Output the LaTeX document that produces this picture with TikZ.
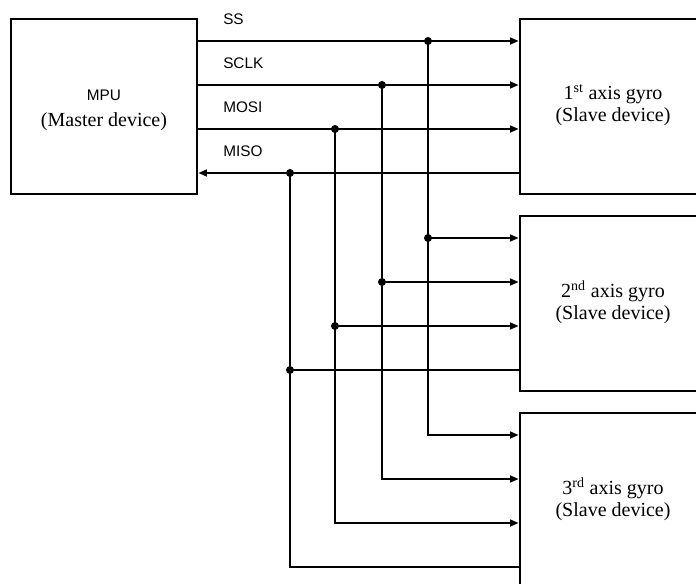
\documentclass[tikz,border=0pt]{standalone}
\usepackage{fontspec}
\setmainfont{Liberation Serif}
\setsansfont{Liberation Sans}
\usetikzlibrary{arrows.meta}
\begin{document}
\begin{tikzpicture}[x=0.75pt,y=-0.75pt, line width=1.9pt, line join=miter, >={Triangle[length=6.5pt,width=5pt]}, font=\fontsize{15}{16.5}\selectfont]
	\tikzset{box/.style={draw,minimum width=139.5pt,minimum height=131pt,inner sep=0pt},
		txt/.style={align=center,inner sep=0pt},
		sig/.style={anchor=west,inner sep=0pt,font=\sffamily\fontsize{11.5}{13}\selectfont}}
	\useasboundingbox (0,0) rectangle (696,584);
	\clip (0,0) rectangle (696,584);
	% boxes
	\node[box] (mpu) at (104,106.5) {};
	\node[box] (g1) at (613,106.5) {};
	\node[box] (g2) at (613,303.5) {};
	\node[box] (g3) at (613,500.5) {};
	\node[txt] (tmpu) at ([yshift=-2.6pt]mpu.center) {{\sffamily\fontsize{11.5}{13}\selectfont MPU}\\[3pt](Master device)};
	\node[txt] (tg1) at ([yshift=1pt]g1.center) {1\textsuperscript{st} axis gyro\\(Slave device)};
	\node[txt] (tg2) at ([yshift=1pt]g2.center) {2\textsuperscript{nd} axis gyro\\(Slave device)};
	\node[txt] (tg3) at ([yshift=1pt]g3.center) {3\textsuperscript{rd} axis gyro\\(Slave device)};
	% tap points
	\foreach \n/\y in {1/19,2/216,3/413}
		\foreach \s/\x/\d in {ss/428/22,sclk/382/66,mosi/335/110,miso/290/154}
			\coordinate (\s\n) at (\x,\y+\d);
	% labels
	\node[sig] (lss) at (222,19) {SS};
	\node[sig] (lsclk) at (222,63) {SCLK};
	\node[sig] (lmosi) at (222,107) {MOSI};
	\node[sig] (lmiso) at (222,151) {MISO};
	% master to slaves
	\foreach \s in {ss,sclk,mosi}{
		\draw[->] (mpu.east |- \s1) -- (g1.west |- \s1);
		\draw[->] (\s2) -- (g2.west |- \s2);
		\draw[->] (\s1) |- (g3.west |- \s3);
		\fill (\s1) circle (3pt) (\s2) circle (3pt);
	}
	% slaves to master
	\draw[<-] (mpu.east |- miso1) -- (g1.west |- miso1);
	\draw (g2.west |- miso2) -- (miso2);
	\draw (g3.west |- miso3) -| (miso1);
	\fill (miso1) circle (3pt) (miso2) circle (3pt);
\end{tikzpicture}
\end{document}
